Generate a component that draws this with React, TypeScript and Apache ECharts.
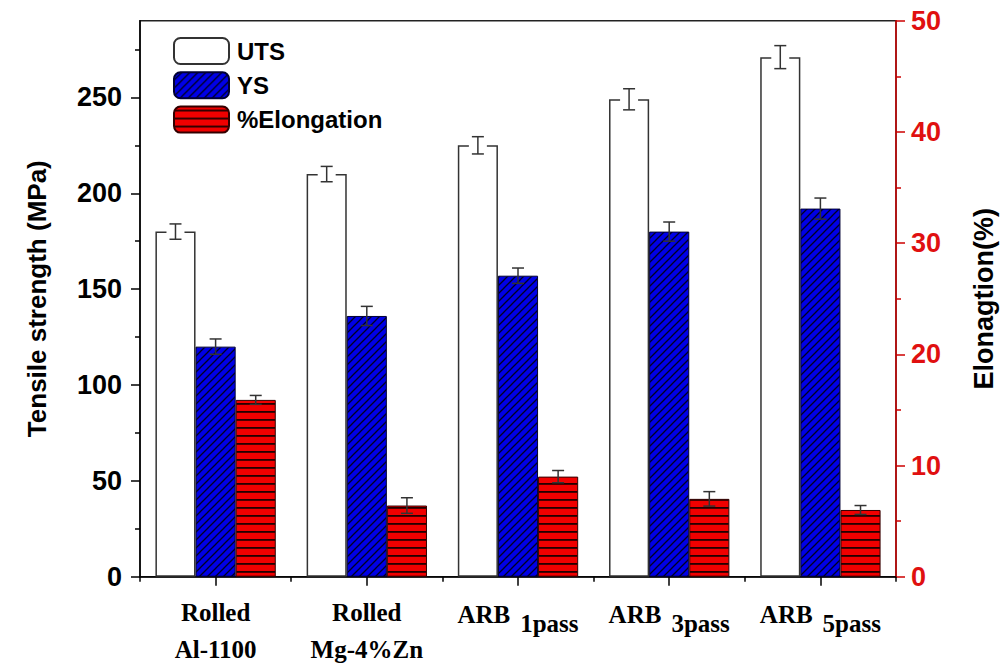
import React, { useEffect, useRef } from 'react';
import * as echarts from 'echarts';

const categories = ['Rolled Al-1100', 'Rolled Mg-4%Zn', 'ARB 1pass', 'ARB 3pass', 'ARB 5pass'];
const utsValues = [180, 210, 225, 249, 271];
const utsErrors = [4, 4, 4.5, 5.5, 6];
const ysValues = [120, 136, 157, 180, 192];
const ysErrors = [4, 5, 4, 5, 5.5];
const elongValues = [15.9, 6.4, 9.0, 7.0, 6.0];
const elongErrors = [0.4, 0.7, 0.55, 0.65, 0.4];
const leftMajorTicks = [0, 50, 100, 150, 200, 250];
const leftMinorTicks = [25, 75, 125, 175, 225, 275];
const rightMax = 50;
const leftMax = 290;

const CAT_GAP = 0.204;

function makeHatch(bg: string, kind: 'diag' | 'horiz') {
  const c = document.createElement('canvas');
  const s = 8;
  c.width = s;
  c.height = s;
  const ctx = c.getContext('2d')!;
  ctx.fillStyle = bg;
  ctx.fillRect(0, 0, s, s);
  if (kind === 'diag') {
    ctx.strokeStyle = '#000022';
    ctx.lineWidth = 1.3;
    ctx.beginPath();
    ctx.moveTo(-2, s + 2);
    ctx.lineTo(s + 2, -2);
    ctx.moveTo(-2, 2);
    ctx.lineTo(2, -2);
    ctx.moveTo(s - 2, s + 2);
    ctx.lineTo(s + 2, s - 2);
    ctx.stroke();
  } else {
    ctx.fillStyle = '#220000';
    ctx.fillRect(0, 3, s, 1.8);
  }
  return c;
}

function errorSeries(name: string, values: number[], errors: number[], yAxisIndex: number, slot: number, gap: boolean) {
  return {
    type: 'custom',
    name: name,
    xAxisIndex: 0,
    yAxisIndex,
    z: 5,
    silent: true,
    data: values.map((v, i) => [i, v, errors[i]]),
    encode: { x: 0, y: 1 },
    renderItem: (params: any, api: any) => {
      const i = api.value(0);
      const v = api.value(1);
      const e = api.value(2);
      const band = api.size([1, 0])[0];
      const bw = (band * (1 - CAT_GAP)) / 3;
      const base = api.coord([i, v]);
      const cx = base[0] + (slot - 1) * bw;
      const yv = base[1];
      const yTop = api.coord([i, v + e])[1];
      const yBot = api.coord([i, v - e])[1];
      const st = { stroke: '#333', lineWidth: 1.5 };
      const children: any[] = [];
      if (gap) {
        children.push({ type: 'rect', shape: { x: cx - 9, y: yv - 2, width: 18, height: 4 }, style: { fill: '#fff' } });
      }
      children.push({ type: 'line', shape: { x1: cx, y1: yTop, x2: cx, y2: yBot }, style: st });
      children.push({ type: 'line', shape: { x1: cx - 6, y1: yTop, x2: cx + 6, y2: yTop }, style: st });
      children.push({ type: 'line', shape: { x1: cx - 6, y1: yBot, x2: cx + 6, y2: yBot }, style: st });
      return { type: 'group', children };
    },
  };
}

export default function App() {
  const ref = useRef<HTMLDivElement>(null);
  useEffect(() => {
    if (!ref.current) return;
    const chart = echarts.init(ref.current, null, { renderer: 'svg' });
    const bluePattern = { image: makeHatch('#0000e6', 'diag'), repeat: 'repeat' };
    const redPattern = { image: makeHatch('#f00000', 'horiz'), repeat: 'repeat' };
    const sans = '"Liberation Sans", Arial, sans-serif';
    const serif = '"Liberation Serif", "Times New Roman", serif';
    const option: any = {
      animation: false,
      backgroundColor: '#fff',
      grid: {
        left: 140,
        right: 108,
        top: 20.7,
        bottom: 90.3,
        show: true,
        borderColor: '#222',
        borderWidth: 1.5,
        backgroundColor: 'transparent',
      },
      legend: {
        data: ['UTS', 'YS', '%Elongation'],
        orient: 'vertical',
        left: 173,
        top: 37,
        padding: 0,
        itemWidth: 55,
        itemHeight: 26,
        itemGap: 6.3,
        selectedMode: false,
        textStyle: { fontSize: 24, lineHeight: 26, fontWeight: 'bold', color: '#000', fontFamily: sans, padding: [0, 0, 0, 3] },
      },
      xAxis: [
        {
          type: 'category',
          data: categories,
          position: 'bottom',
          axisLine: { show: true, lineStyle: { color: '#000', width: 1.5 } },
          axisTick: { show: true, alignWithLabel: true, length: 9, lineStyle: { color: '#000', width: 1.5 } },
          axisLabel: {
            interval: 0,
            margin: 17,
            color: '#000',
            formatter: (val: string) => {
              const idx = val.indexOf(' ');
              const head = val.slice(0, idx);
              const tail = val.slice(idx + 1);
              if (head === 'Rolled') return `{r|${head}}\n{r|${tail}}`;
              return `{a|${head}}{b|${tail}}`;
            },
            rich: {
              r: { fontFamily: serif, fontWeight: 'bold', fontSize: 25, lineHeight: 37, color: '#000' },
              a: { fontFamily: serif, fontWeight: 'bold', fontSize: 25, height: 42, lineHeight: 42, verticalAlign: 'top', color: '#000' },
              b: { fontFamily: serif, fontWeight: 'bold', fontSize: 25, height: 42, lineHeight: 51, verticalAlign: 'bottom', color: '#000', padding: [0, 0, 0, 10] },
            },
          },
          splitLine: { show: false },
        },
        {
          type: 'category',
          data: categories,
          position: 'bottom',
          axisLine: { show: false },
          axisTick: { show: true, length: 5, lineStyle: { color: '#000', width: 1.5 } },
          axisLabel: { show: false },
          splitLine: { show: false },
        },
      ],
      yAxis: [
        {
          type: 'value',
          min: 0,
          max: leftMax,
          position: 'left',
          axisLine: { show: true, lineStyle: { color: '#000', width: 1.5 } },
          axisTick: { show: true, customValues: leftMajorTicks, length: 9, lineStyle: { color: '#000', width: 1.5 } },
          axisLabel: { customValues: leftMajorTicks, fontSize: 27, fontWeight: 'bold', color: '#000', fontFamily: sans, margin: 18 },
          splitLine: { show: false },
          name: 'Tensile strength (MPa)',
          nameLocation: 'middle',
          nameGap: 90,
          nameRotate: 90,
          nameTextStyle: { fontSize: 26, fontWeight: 'bold', color: '#000', fontFamily: sans },
        },
        {
          type: 'value',
          min: 0,
          max: rightMax,
          interval: 10,
          position: 'right',
          axisLine: { show: true, lineStyle: { color: '#cc0000', width: 1.5 } },
          axisTick: { show: true, length: 9, lineStyle: { color: '#cc0000', width: 1.5 } },
          minorTick: { show: true, splitNumber: 2, length: 5, lineStyle: { color: '#cc0000', width: 1.5 } },
          axisLabel: { fontSize: 27, fontWeight: 'bold', color: '#e01010', fontFamily: sans, margin: 15 },
          splitLine: { show: false },
          minorSplitLine: { show: false },
          name: 'Elonagtion(%)',
          nameLocation: 'middle',
          nameGap: 74,
          nameRotate: 90,
          nameTextStyle: { fontSize: 27, fontWeight: 'bold', color: '#000', fontFamily: sans },
        },
        {
          type: 'value',
          min: 0,
          max: leftMax,
          position: 'left',
          axisLine: { show: false },
          axisTick: { show: true, customValues: leftMinorTicks, length: 5, lineStyle: { color: '#000', width: 1.5 } },
          axisLabel: { show: false },
          splitLine: { show: false },
        },
      ],
      series: [
        {
          name: 'UTS',
          type: 'bar',
          xAxisIndex: 0,
          yAxisIndex: 0,
          data: utsValues,
          barGap: '0%',
          barCategoryGap: `${CAT_GAP * 100}%`,
          itemStyle: { color: '#ffffff', borderColor: '#333', borderWidth: 1.5 },
        },
        {
          name: 'YS',
          type: 'bar',
          xAxisIndex: 0,
          yAxisIndex: 0,
          data: ysValues,
          barGap: '0%',
          barCategoryGap: `${CAT_GAP * 100}%`,
          itemStyle: { color: bluePattern, borderColor: '#000033', borderWidth: 1 },
        },
        {
          name: '%Elongation',
          type: 'bar',
          xAxisIndex: 0,
          yAxisIndex: 1,
          data: elongValues,
          barGap: '0%',
          barCategoryGap: `${CAT_GAP * 100}%`,
          itemStyle: { color: redPattern, borderColor: '#330000', borderWidth: 1 },
        },
        errorSeries('UTS-err', utsValues, utsErrors, 0, 0, true),
        errorSeries('YS-err', ysValues, ysErrors, 0, 1, false),
        errorSeries('El-err', elongValues, elongErrors, 1, 2, false),
      ],
    };
    chart.setOption(option);
    return () => chart.dispose();
  }, []);
  return <div ref={ref} style={{ position: 'absolute', left: 0, top: 0, width: 1005, height: 667, background: '#fff' }} />;
}
